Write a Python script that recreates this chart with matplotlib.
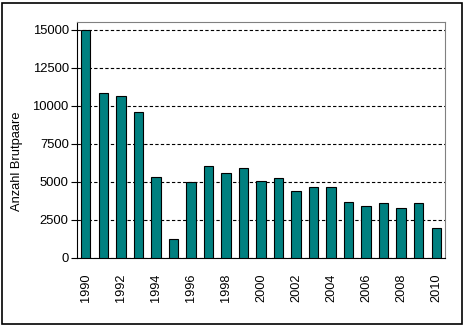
import matplotlib
matplotlib.use('Agg')
import matplotlib.pyplot as plt
from matplotlib.patches import Rectangle

years = list(range(1990, 2011))
pairs = [15000, 10850, 10650, 9600, 5350, 1250, 4970, 6020, 5600, 5930,
         5080, 5280, 4420, 4690, 4690, 3700, 3440, 3640, 3310, 3640, 1970]
y_ticks = [0, 2500, 5000, 7500, 10000, 12500, 15000]

plt.rcParams['font.family'] = ['Liberation Sans', 'DejaVu Sans']

fig = plt.figure(figsize=(4.68, 3.26), dpi=100)
ax = fig.add_axes([77 / 468, 1 - 258 / 326, (445 - 77) / 468, (258 - 22) / 326])

x = range(len(years))
ax.bar(x, pairs, width=0.54, color='#008080', edgecolor='black', linewidth=0.8, zorder=3)

ax.set_xlim(-0.5, len(years) - 0.5)
ax.set_ylim(0, 15500)
ax.set_yticks(y_ticks)
ax.set_yticklabels([str(v) for v in y_ticks], fontsize=9.4)
ax.yaxis.grid(True, linestyle=(0, (3, 2)), color='black', linewidth=0.8, zorder=1)
ax.set_axisbelow(True)

ax.set_xticks(list(x)[::2])
ax.set_xticklabels([str(y) for y in years[::2]], rotation=90, fontsize=9.2)
ax.tick_params(axis='x', length=0, pad=11)
ax.tick_params(axis='y', length=4, width=0.8, pad=2)

ax.set_ylabel('Anzahl Brutpaare', fontsize=9.3)
ax.yaxis.set_label_coords(-54 / 368, 0.41)

for side in ['top', 'right']:
    ax.spines[side].set_color('#808080')
    ax.spines[side].set_linewidth(0.8)
for side in ['left', 'bottom']:
    ax.spines[side].set_color('black')
    ax.spines[side].set_linewidth(0.8)

# black frame around the whole chart
fig.patches.append(Rectangle((2 / 468, 2 / 326), 460 / 468, 321 / 326,
                             transform=fig.transFigure, fill=False,
                             edgecolor='black', linewidth=1.2))

fig.savefig('out.png', dpi=100)
